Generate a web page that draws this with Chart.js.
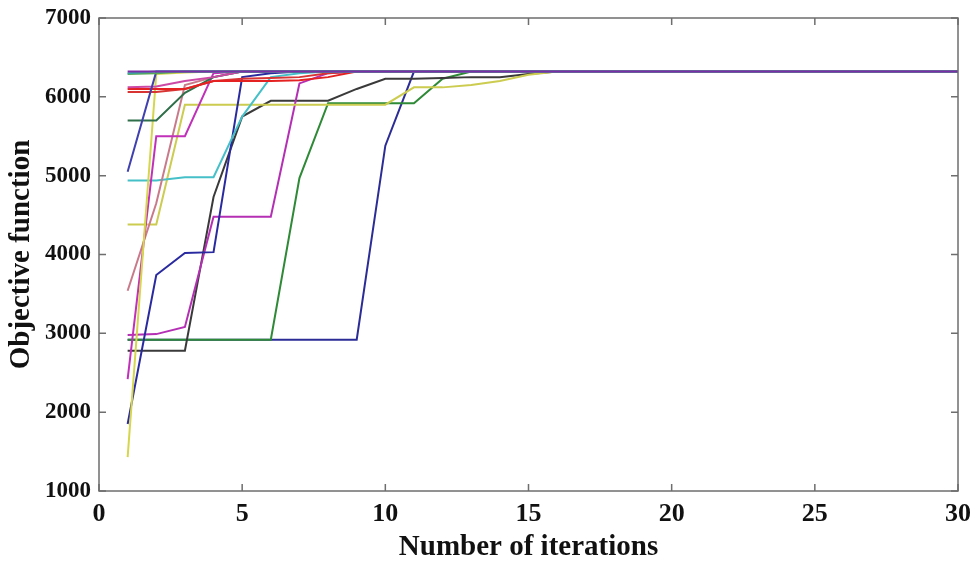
<!DOCTYPE html>
<html>
<head>
<meta charset="utf-8">
<script src="https://cdn.jsdelivr.net/npm/chart.js@4.4.1/dist/chart.umd.min.js"></script>
<style>
    html, body { margin: 0; padding: 0; background: #ffffff; }
</style>
</head>
<body>
<canvas id="convergenceChart" width="974" height="562"></canvas>
<script>
// iterations on the x axis
const iterations = [1, 2, 3, 4, 5, 6, 7, 8, 9, 10,
    11, 12, 13, 14, 15, 16, 17, 18, 19, 20,
    21, 22, 23, 24, 25, 26, 27, 28, 29, 30];

const xTicks = [0, 5, 10, 15, 20, 25, 30];
const yTicks = [1000, 2000, 3000, 4000, 5000, 6000, 7000];

// one run per line, objective value at each iteration
const runPurple = [6320, 6320, 6320, 6320, 6320, 6320, 6320, 6320, 6320, 6320,
    6320, 6320, 6320, 6320, 6320, 6320, 6320, 6320, 6320, 6320,
    6320, 6320, 6320, 6320, 6320, 6320, 6320, 6320, 6320, 6320];
const runBlueA = [2920, 2920, 2920, 2920, 2920, 2920, 2920, 2920, 2920, 5380,
    6320, 6320, 6320, 6320, 6320, 6320, 6320, 6320, 6320, 6320,
    6320, 6320, 6320, 6320, 6320, 6320, 6320, 6320, 6320, 6320];
const runGreenA = [2920, 2920, 2920, 2920, 2920, 2920, 4970, 5920, 5920, 5920,
    5920, 6230, 6320, 6320, 6320, 6320, 6320, 6320, 6320, 6320,
    6320, 6320, 6320, 6320, 6320, 6320, 6320, 6320, 6320, 6320];
const runBlack = [2780, 2780, 2780, 4730, 5750, 5950, 5950, 5950, 6100, 6230,
    6230, 6240, 6250, 6250, 6290, 6320, 6320, 6320, 6320, 6320,
    6320, 6320, 6320, 6320, 6320, 6320, 6320, 6320, 6320, 6320];
const runYellowA = [1430, 6290, 6310, 6320, 6320, 6320, 6320, 6320, 6320, 6320,
    6320, 6320, 6320, 6320, 6320, 6320, 6320, 6320, 6320, 6320,
    6320, 6320, 6320, 6320, 6320, 6320, 6320, 6320, 6320, 6320];
const runYellowB = [4380, 4380, 5900, 5900, 5900, 5900, 5900, 5900, 5900, 5900,
    6120, 6120, 6150, 6200, 6280, 6320, 6320, 6320, 6320, 6320,
    6320, 6320, 6320, 6320, 6320, 6320, 6320, 6320, 6320, 6320];
const runMagentaA = [2980, 2990, 3080, 4480, 4480, 4480, 6170, 6300, 6320, 6320,
    6320, 6320, 6320, 6320, 6320, 6320, 6320, 6320, 6320, 6320,
    6320, 6320, 6320, 6320, 6320, 6320, 6320, 6320, 6320, 6320];
const runMagentaB = [2420, 5500, 5500, 6300, 6320, 6320, 6320, 6320, 6320, 6320,
    6320, 6320, 6320, 6320, 6320, 6320, 6320, 6320, 6320, 6320,
    6320, 6320, 6320, 6320, 6320, 6320, 6320, 6320, 6320, 6320];
const runRose = [3540, 4650, 6150, 6250, 6320, 6320, 6320, 6320, 6320, 6320,
    6320, 6320, 6320, 6320, 6320, 6320, 6320, 6320, 6320, 6320,
    6320, 6320, 6320, 6320, 6320, 6320, 6320, 6320, 6320, 6320];
const runBlueB = [5050, 6320, 6320, 6320, 6320, 6320, 6320, 6320, 6320, 6320,
    6320, 6320, 6320, 6320, 6320, 6320, 6320, 6320, 6320, 6320,
    6320, 6320, 6320, 6320, 6320, 6320, 6320, 6320, 6320, 6320];
const runBlueC = [1850, 3740, 4020, 4030, 6250, 6300, 6320, 6320, 6320, 6320,
    6320, 6320, 6320, 6320, 6320, 6320, 6320, 6320, 6320, 6320,
    6320, 6320, 6320, 6320, 6320, 6320, 6320, 6320, 6320, 6320];
const runCyan = [4940, 4940, 4980, 4980, 5750, 6250, 6300, 6320, 6320, 6320,
    6320, 6320, 6320, 6320, 6320, 6320, 6320, 6320, 6320, 6320,
    6320, 6320, 6320, 6320, 6320, 6320, 6320, 6320, 6320, 6320];
const runDarkGreen = [5700, 5700, 6050, 6250, 6320, 6320, 6320, 6320, 6320, 6320,
    6320, 6320, 6320, 6320, 6320, 6320, 6320, 6320, 6320, 6320,
    6320, 6320, 6320, 6320, 6320, 6320, 6320, 6320, 6320, 6320];
const runTeal = [6300, 6320, 6320, 6320, 6320, 6320, 6320, 6320, 6320, 6320,
    6320, 6320, 6320, 6320, 6320, 6320, 6320, 6320, 6320, 6320,
    6320, 6320, 6320, 6320, 6320, 6320, 6320, 6320, 6320, 6320];
const runGreenB = [6290, 6300, 6320, 6320, 6320, 6320, 6320, 6320, 6320, 6320,
    6320, 6320, 6320, 6320, 6320, 6320, 6320, 6320, 6320, 6320,
    6320, 6320, 6320, 6320, 6320, 6320, 6320, 6320, 6320, 6320];
const runRedA = [6100, 6100, 6100, 6200, 6200, 6200, 6210, 6250, 6320, 6320,
    6320, 6320, 6320, 6320, 6320, 6320, 6320, 6320, 6320, 6320,
    6320, 6320, 6320, 6320, 6320, 6320, 6320, 6320, 6320, 6320];
const runRedB = [6060, 6060, 6100, 6200, 6230, 6240, 6250, 6300, 6320, 6320,
    6320, 6320, 6320, 6320, 6320, 6320, 6320, 6320, 6320, 6320,
    6320, 6320, 6320, 6320, 6320, 6320, 6320, 6320, 6320, 6320];
const runPink = [6120, 6130, 6200, 6250, 6320, 6320, 6320, 6320, 6320, 6320,
    6320, 6320, 6320, 6320, 6320, 6320, 6320, 6320, 6320, 6320,
    6320, 6320, 6320, 6320, 6320, 6320, 6320, 6320, 6320, 6320];

window.addEventListener('DOMContentLoaded', function () {
    function toPoints(values) {
        return values.map(function (v, i) { return { x: iterations[i], y: v }; });
    }

    function line(values, color) {
        return {
            data: toPoints(values),
            borderColor: color,
            backgroundColor: color,
            borderWidth: 2,
            pointRadius: 0,
            tension: 0,
            fill: false
        };
    }

    // MATLAB-style box with inward tick marks
    const boxTicks = {
        id: 'boxTicks',
        afterDraw: function (chart) {
            const ctx = chart.ctx;
            const a = chart.chartArea;
            const xs = chart.scales.x;
            const ys = chart.scales.y;
            const len = 7;
            ctx.save();
            ctx.strokeStyle = '#6e6e6e';
            ctx.lineWidth = 1.5;
            ctx.strokeRect(a.left, a.top, a.right - a.left, a.bottom - a.top);
            ctx.beginPath();
            xs.ticks.forEach(function (t) {
                const px = xs.getPixelForValue(t.value);
                ctx.moveTo(px, a.bottom); ctx.lineTo(px, a.bottom - len);
                ctx.moveTo(px, a.top); ctx.lineTo(px, a.top + len);
            });
            ys.ticks.forEach(function (t) {
                const py = ys.getPixelForValue(t.value);
                ctx.moveTo(a.left, py); ctx.lineTo(a.left + len, py);
                ctx.moveTo(a.right, py); ctx.lineTo(a.right - len, py);
            });
            ctx.stroke();
            ctx.restore();
        }
    };

    const serif = '"Liberation Serif", "Times New Roman", serif';

    new Chart(document.getElementById('convergenceChart'), {
        type: 'line',
        data: {
            datasets: [
                line(runPurple, '#7a2fa8'),
                line(runTeal, '#3aa3a3'),
                line(runGreenB, '#58a858'),
                line(runBlueB, '#4040b0'),
                line(runPink, '#cc4aa6'),
                line(runRedA, '#e42222'),
                line(runRedB, '#d83434'),
                line(runDarkGreen, '#2f6f4a'),
                line(runYellowA, '#d6d64e'),
                line(runMagentaB, '#c030b8'),
                line(runRose, '#c97a8a'),
                line(runCyan, '#45c0c8'),
                line(runBlueC, '#2a2aa0'),
                line(runYellowB, '#cccc50'),
                line(runMagentaA, '#b52fb5'),
                line(runBlack, '#3a3a3a'),
                line(runGreenA, '#2e8a36'),
                line(runBlueA, '#2c2c96')
            ]
        },
        options: {
            responsive: false,
            animation: false,
            layout: { padding: { left: 0, right: 16, top: 18, bottom: 0 } },
            plugins: {
                legend: { display: false },
                tooltip: { enabled: false }
            },
            scales: {
                x: {
                    type: 'linear',
                    min: 0,
                    max: 30,
                    afterBuildTicks: function (scale) {
                        scale.ticks = xTicks.map(function (v) { return { value: v }; });
                    },
                    afterFit: function (scale) {
                        scale.height = 71;
                        scale.paddingLeft = 0;
                        scale.paddingRight = 0;
                    },
                    grid: { display: false, drawTicks: false },
                    border: { display: false },
                    ticks: {
                        color: '#111',
                        padding: 8,
                        maxRotation: 0,
                        font: { family: serif, size: 26, weight: 'bold' }
                    },
                    title: {
                        display: true,
                        text: 'Number of iterations',
                        color: '#111',
                        padding: { top: 0, bottom: 0 },
                        font: { family: serif, size: 29, weight: 'bold', lineHeight: 1 }
                    }
                },
                y: {
                    min: 1000,
                    max: 7000,
                    afterBuildTicks: function (scale) {
                        scale.ticks = yTicks.map(function (v) { return { value: v }; });
                    },
                    afterFit: function (scale) {
                        scale.width = 99;
                        scale.paddingTop = 0;
                        scale.paddingBottom = 0;
                    },
                    grid: { display: false, drawTicks: false },
                    border: { display: false },
                    ticks: {
                        color: '#111',
                        padding: 8,
                        font: { family: serif, size: 23, weight: 'bold' },
                        callback: function (value) { return String(value); }
                    },
                    title: {
                        display: true,
                        text: 'Objective function',
                        color: '#111',
                        padding: { top: 7, bottom: 0 },
                        font: { family: serif, size: 29, weight: 'bold', lineHeight: 1 }
                    }
                }
            }
        },
        plugins: [boxTicks]
    });
});
</script>
</body>
</html>
